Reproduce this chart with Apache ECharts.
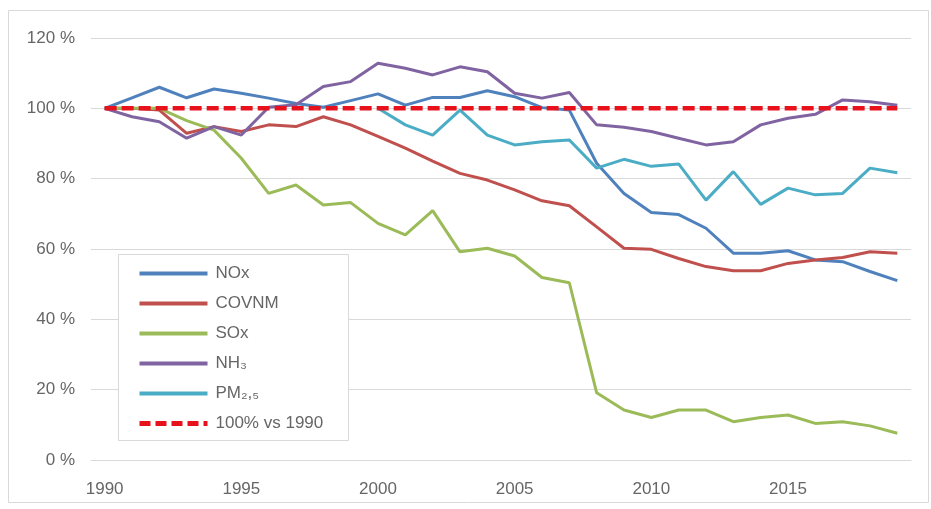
<!DOCTYPE html>
<html>
<head>
<meta charset="utf-8">
<script src="https://cdn.jsdelivr.net/npm/echarts@6/dist/echarts.min.js"></script>
<style>
html,body{margin:0;padding:0;background:#fff;}
#main{width:931px;height:509px;}
</style>
</head>
<body>
<div id="main"></div>
<script>
const years = ['1990','1991','1992','1993','1994','1995','1996','1997','1998','1999','2000','2001','2002','2003','2004','2005','2006','2007','2008','2009','2010','2011','2012','2013','2014','2015','2016','2017','2018','2019'];
const nox = [100, 103, 106, 103, 105.5, 104.3, 102.9, 101.4, 100.3, 102.2, 104.1, 100.9, 103.1, 103.1, 105, 103.3, 100.2, 99.5, 84.4, 75.8, 70.4, 69.8, 65.9, 58.8, 58.8, 59.5, 56.9, 56.4, 53.6, 51];
const covnm = [100, 100, 99.5, 92.9, 94.8, 93.4, 95.3, 94.8, 97.6, 95.3, 92, 88.7, 85, 81.5, 79.6, 76.8, 73.7, 72.3, 66.3, 60.2, 59.9, 57.3, 55, 53.8, 53.8, 55.9, 56.9, 57.6, 59.2, 58.8];
const sox = [100, 100, 100, 96.5, 93.8, 85.8, 75.8, 78.2, 72.5, 73.2, 67.3, 64, 70.9, 59.2, 60.2, 58, 51.9, 50.4, 19.1, 14.2, 12.1, 14.2, 14.2, 10.9, 12.1, 12.8, 10.4, 10.9, 9.7, 7.6];
const nh3 = [100, 97.6, 96.2, 91.5, 94.8, 92.4, 100.3, 101, 106.2, 107.6, 112.8, 111.4, 109.5, 111.8, 110.4, 104.3, 102.9, 104.5, 95.3, 94.6, 93.4, 91.5, 89.6, 90.5, 95.3, 97.2, 98.3, 102.4, 101.9, 100.9];
const pm25 = [null, null, null, null, null, null, null, null, null, null, 100, 95.3, 92.4, 99.5, 92.4, 89.6, 90.5, 91, 83, 85.5, 83.5, 84.2, 73.9, 82, 72.7, 77.3, 75.4, 75.8, 83, 81.7];
const ref1990 = [100,100,100,100,100,100,100,100,100,100,100,100,100,100,100,100,100,100,100,100,100,100,100,100,100,100,100,100,100,100];
const yTicks = [0, 20, 40, 60, 80, 100, 120];

const names = ['NOx', 'COVNM', 'SOx', 'NH₃', 'PM₂,₅', '100% vs 1990'];
const colors = ['#4F81BD', '#C0504D', '#9BBB59', '#8064A2', '#4BACC6', '#E8121C'];
const datasets = [nox, covnm, sox, nh3, pm25, ref1990];

const font = 'Liberation Sans, Arial, sans-serif';
const chart = echarts.init(document.getElementById('main'), null, {renderer: 'canvas'});

const series = datasets.map((d, i) => ({
  name: names[i],
  type: 'line',
  data: d,
  symbol: 'none',
  smooth: false,
  connectNulls: false,
  color: colors[i],
  lineStyle: i === 5
    ? {color: colors[i], width: 4.5, type: [12, 5]}
    : {color: colors[i], width: 3},
  itemStyle: {color: colors[i]},
  z: 2 + i
}));

chart.setOption({
  animation: false,
  backgroundColor: '#fff',
  graphic: [
    {type: 'rect', shape: {x: 8.5, y: 10.5, width: 920, height: 492}, style: {fill: 'none', stroke: '#d9d9d9', lineWidth: 1}, z: 0},
    {type: 'rect', shape: {x: 118.5, y: 254.5, width: 230, height: 186}, style: {fill: '#fff', stroke: '#d9d9d9', lineWidth: 1}, z: 50}
  ],
  grid: {left: 91, right: 20, top: 38, bottom: 49, containLabel: false},
  legend: {
    orient: 'vertical',
    left: 118,
    top: 254,
    padding: [11, 10, 11, 19],
    itemWidth: 68,
    itemHeight: 14,
    itemGap: 13,
    z: 60,
    data: names.map((n, i) => ({
      name: n,
      lineStyle: i === 5
        ? {color: colors[i], width: 5, type: [11, 5]}
        : {color: colors[i], width: 4, type: 'solid'}
    })),
    itemStyle: {opacity: 0, borderWidth: 0},
    textStyle: {fontFamily: font, fontSize: 17, color: '#666', padding: [0, 0, 0, 3]}
  },
  xAxis: {
    type: 'category',
    data: years,
    boundaryGap: true,
    axisLine: {show: true, lineStyle: {color: '#d9d9d9', width: 1}},
    axisTick: {show: false},
    axisLabel: {interval: 4, fontFamily: font, fontSize: 17, color: '#666', margin: 21}
  },
  yAxis: {
    type: 'value',
    min: yTicks[0],
    max: yTicks[yTicks.length - 1],
    interval: 20,
    axisLine: {show: false},
    axisTick: {show: false},
    splitLine: {lineStyle: {color: '#d9d9d9', width: 1}},
    axisLabel: {formatter: '{value} %', fontFamily: font, fontSize: 17, color: '#666', margin: 16}
  },
  series: series
});
</script>
</body>
</html>
